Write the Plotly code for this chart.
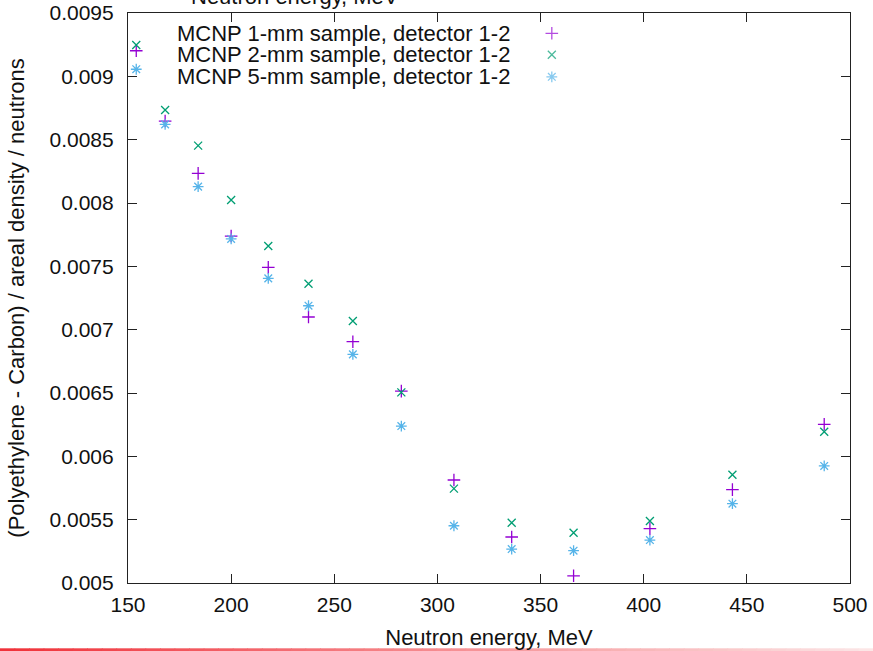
import plotly.graph_objects as go

# ---- data ----
energy = [154, 168, 184, 200, 218, 237.5, 259, 282.5, 308, 336, 366, 403, 443, 487.5]
mcnp_1mm = [0.009202, 0.008647, 0.008234, 0.007739, 0.007492, 0.007100, 0.006905, 0.006515,
            0.005813, 0.005363, 0.005057, 0.005429, 0.005737, 0.006253]
mcnp_2mm = [0.009247, 0.008734, 0.008453, 0.008024, 0.007660, 0.007363, 0.007068, 0.006505,
            0.005745, 0.005476, 0.005397, 0.005489, 0.005855, 0.006194]
mcnp_5mm = [0.009056, 0.008621, 0.008129, 0.007716, 0.007405, 0.007189, 0.006805, 0.006239,
            0.005452, 0.005268, 0.005255, 0.005339, 0.005626, 0.005924]
series_names = ["MCNP 1-mm sample, detector 1-2",
                "MCNP 2-mm sample, detector 1-2",
                "MCNP 5-mm sample, detector 1-2"]
x_ticks = [150, 200, 250, 300, 350, 400, 450, 500]
y_ticks = [0.005, 0.0055, 0.006, 0.0065, 0.007, 0.0075, 0.008, 0.0085, 0.009, 0.0095]
y_tick_text = ["0.005", "0.0055", "0.006", "0.0065", "0.007", "0.0075", "0.008", "0.0085", "0.009", "0.0095"]

# ---- styles ----
colors = ["#9400d3", "#009e73", "#56b4e9"]
symbols = ["cross-thin", "x-thin", "asterisk"]
sizes = [9, 8, 9]
FONT = "Liberation Sans, Arial, sans-serif"
TXT = "#111"

fig = go.Figure()
for ys, name, c, s, sz in zip([mcnp_1mm, mcnp_2mm, mcnp_5mm], series_names, colors, symbols, sizes):
    fig.add_trace(go.Scatter(
        x=energy, y=ys, mode="markers", name=name, showlegend=False,
        marker=dict(symbol=s, size=sz, color=c, line=dict(color=c, width=1.3)),
        cliponaxis=False,
    ))

# custom gnuplot-style key (text right-aligned, sample on the right)
key_rows = [0.9644, 0.9267, 0.8881]
fig.add_trace(go.Scatter(
    x=[0.587] * 3, y=key_rows, mode="markers", xaxis="x2", yaxis="y2", showlegend=False,
    hoverinfo="skip",
    marker=dict(symbol=symbols, size=sizes, color=colors, line=dict(color=colors, width=1.3)),
))
annotations = []
for name, yr in zip(series_names, key_rows):
    annotations.append(dict(x=0.530, y=yr, xref="x2", yref="y2", text=name, showarrow=False,
                            xanchor="right", yanchor="middle", borderpad=0,
                            font=dict(family=FONT, size=22, color=TXT)))
# partially visible title of the figure above (cropped by the page edge)
annotations.append(dict(x=0.231, y=1.0, xref="paper", yref="paper", text="Neutron energy, MeV",
                        showarrow=False, xanchor="center", yanchor="bottom", yshift=2,
                        font=dict(family=FONT, size=22, color=TXT)))

# red fading rule at the bottom of the page
W = 722.0
H = 570.0
shapes = []
n = 60
for i in range(n):
    t = i / (n - 1)
    r = int(240 + (252 - 240) * t)
    g = int(50 + 180 * t)
    b = int(58 + 172 * t)
    shapes.append(dict(type="rect", xref="paper", yref="paper",
                       x0=-128 / W + i * (873 / W) / n, x1=-128 / W + (i + 1.05) * (873 / W) / n,
                       y0=-70 / H, y1=-65.3 / H,
                       fillcolor=f"rgb({r},{g},{b})", line=dict(width=0), layer="below"))

axis_common = dict(showgrid=False, zeroline=False, showline=True, linecolor="#222", linewidth=1.2,
                   mirror="allticks", ticks="inside", ticklen=9, tickcolor="#222", tickwidth=1.2,
                   automargin=False,
                   tickfont=dict(family=FONT, size=21, color=TXT))

fig.update_layout(
    width=873, height=651,
    margin=dict(l=128, r=23, t=13, b=68),
    paper_bgcolor="white", plot_bgcolor="white",
    showlegend=False,
    xaxis=dict(range=[150, 500], tickvals=x_ticks, ticktext=[str(v) for v in x_ticks],
               ticklabelstandoff=3,
               title=dict(text="Neutron energy, MeV", font=dict(family=FONT, size=22, color=TXT), standoff=14),
               **axis_common),
    yaxis=dict(range=[0.005, 0.0095], tickvals=y_ticks, ticktext=y_tick_text,
               ticklabelstandoff=9,
               title=dict(text="(Polyethylene - Carbon) / areal density / neutrons",
                          font=dict(family=FONT, size=22, color=TXT), standoff=18),
               **axis_common),
    xaxis2=dict(range=[0, 1], overlaying="x", visible=False),
    yaxis2=dict(range=[0, 1], overlaying="y", visible=False),
    annotations=annotations,
    shapes=shapes,
)

fig.write_html("out.html")
